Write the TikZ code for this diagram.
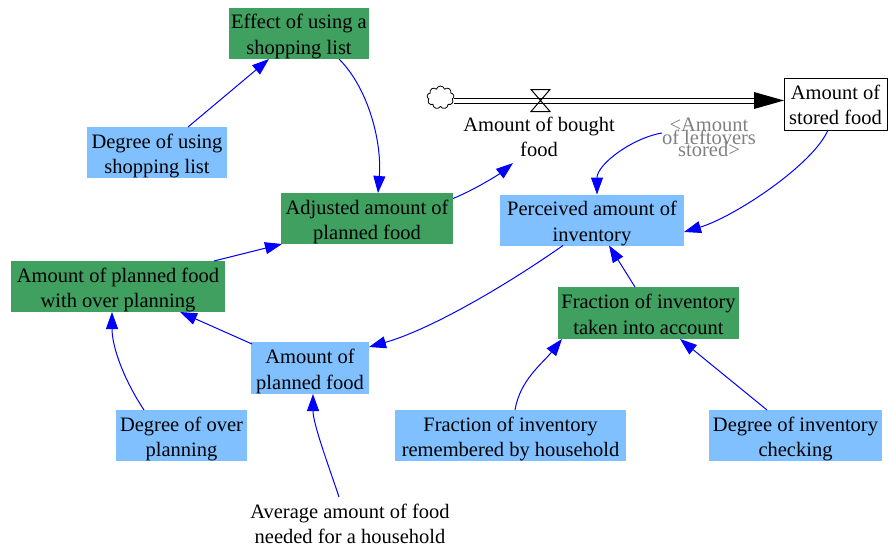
\documentclass[tikz,border=0pt]{standalone}
\usepackage{fontspec}
\setmainfont{Liberation Serif}
\usetikzlibrary{arrows.meta,shapes.symbols,calc}
\definecolor{auxgreen}{RGB}{64,160,96}
\definecolor{constblue}{RGB}{128,192,255}
\definecolor{shadowgray}{RGB}{128,128,128}
\definecolor{linkblue}{RGB}{0,0,255}
\newcommand\tightlines{\lineskiplimit=-100pt\relax}
\begin{document}
\begin{tikzpicture}[x=1pt,y=-1pt,
  every node/.style={inner sep=0pt,outer sep=0pt,align=center,
    font=\fontsize{20.5}{25.5}\selectfont},
  varbox/.style={minimum width=#1pt, minimum height=51pt,
    text height=46.5pt, text depth=4.5pt},
  aux/.style={varbox=#1, fill=auxgreen},
  const/.style={varbox=#1, fill=constblue},
  stock/.style={draw=black, line width=1pt, fill=white,
    minimum width=103pt, minimum height=52pt,
    text height=45.5pt, text depth=4.5pt},
  link/.style={draw=linkblue, line width=1pt,
    -{Triangle[length=17pt,width=12pt]}},
  shadow/.style={text=shadowgray,
    font={\fontsize{20.5}{12.5}\selectfont\tightlines}},
]
\useasboundingbox (0,0) rectangle (888,551);

% variables
\node[aux=140] (eff) at (299,33.5) {Effect of using a\\shopping list};
\node[const=140] (dus) at (157,152.5) {Degree of using\\shopping list};
\node[aux=172] (adj) at (367,218.5) {Adjusted amount of\\planned food};
\node[aux=214] (wop) at (118,286.5) {Amount of planned food\\with over planning};
\node[const=118, minimum height=52pt] (apf) at (310,368) {Amount of\\planned food};
\node[const=131] (dop) at (181.5,435.5) {Degree of over\\planning};
\node[const=184, minimum height=50pt] (per) at (592,220) {Perceived amount of\\inventory};
\node[aux=181, minimum height=52pt] (fta) at (648.5,313) {Fraction of inventory\\taken into account};
\node[const=231] (frh) at (510.5,435.5) {Fraction of inventory\\remembered by household};
\node[const=173] (dic) at (795.5,435.5) {Degree of inventory\\checking};
\node[stock] (sto) at (835.5,104) {Amount of\\stored food};

% inflow: source cloud, pipe, valve and head
\node[cloud, cloud puffs=9, draw, line width=0.8pt, minimum width=27pt,
  minimum height=23pt, aspect=1.2] (src) at (440.5,97.5) {};
\coordinate (valve) at (540.5,100.5);
\coordinate (pipeend) at (756,100.5);
\draw[line width=1pt, double distance=4pt] (src.east |- valve) -- (pipeend);
\fill (sto.west |- valve) -- ++(-30,-8.5) -- ++(0,17) -- cycle;
\draw[line width=1pt] ($(valve)+(-9.5,-11)$) -- ++(19,0) -- ++(-19,22) -- ++(19,0) -- cycle;

% plain labels
\node (bought) at (539,137) {Amount of bought\\food};
\node (avg) at (350,524) {Average amount of food\\needed for a household};
\node[shadow] (left) at (709,137.5) {<Amount\\of leftovers\\stored>};

% causal links
\draw[link] ([xshift=31]dus.north) -- ([xshift=-30]eff.south);
\draw[link] ([xshift=40]eff.south) .. controls +(30,30) and +(4,-50) .. ([xshift=11]adj.north);
\draw[link] ([yshift=20]adj.east) .. controls +(20,-8) and +(-15,12) .. ([xshift=-26,yshift=-6]bought.south);
\draw[link] ([xshift=96]wop.north) -- ([xshift=1]adj.south west);
\draw[link] ([yshift=4.5]left.west) .. controls +(-30,5) and +(0,-30) .. ([xshift=5]per.north);
\draw[link] ([xshift=-7.5]sto.south) .. controls +(-15,35) and +(50,-15) .. ([yshift=-12]per.east);
\draw[link] ([xshift=-29]per.south) .. controls +(-60,42) and +(60,-17) .. ([yshift=21]apf.east);
\draw[link] ([xshift=-13.5]fta.north) -- ([xshift=17]per.south);
\draw[link] ([xshift=1,yshift=-2]apf.north west) -- ([xshift=62]wop.south);
\draw[link] ([xshift=-37.5]dop.north) .. controls +(-20,-30) and +(0,35) .. ([xshift=-6]wop.south);
\draw[link] ([xshift=-11,yshift=7]avg.north) .. controls +(-10,-30) and +(0,30) .. ([xshift=3]apf.south);
\draw[link] ([xshift=4.5]frh.north) .. controls +(5,-30) and +(-20,25) .. ([xshift=4]fta.south west);
\draw[link] ([xshift=-28.5]dic.north) -- ([xshift=31.5]fta.south);
\end{tikzpicture}
\end{document}
